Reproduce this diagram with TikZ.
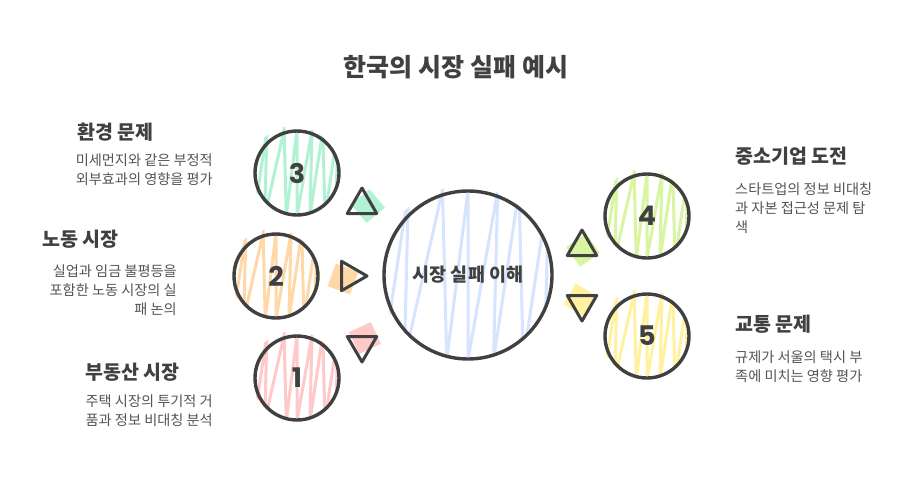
\documentclass[tikz,border=0pt]{standalone}
\usepackage{fontspec}
\setmainfont{Noto Sans CJK KR}
\newfontfamily\numfont{Poppins}
\usetikzlibrary{shapes.geometric}

\definecolor{ink}{HTML}{404040}
\definecolor{mint}{HTML}{B2F2D4}
\definecolor{peach}{HTML}{FFD8A8}
\definecolor{rose}{HTML}{FFC9C9}
\definecolor{lime}{HTML}{D8F5A2}
\definecolor{butter}{HTML}{FFF1A0}
\definecolor{sky}{HTML}{D6E4FF}

% zigzag hachure inside a circle: x, y, radius, colour
\newcommand\hatchcircle[4]{%
  \begin{scope}
    \clip (#1-3,#2-3) circle (#3+1);
    \draw[#4, line width=3pt, line join=miter]
      ({#1-#3},{#2+#3}) \foreach \a / \b in {0.3/0.45, 0.7/0.95, 1.0/1.2, 1.35/1.5, 1.6/1.85, 1.95/2.1}
        { -- ({#1-#3+\a*#3},{#2-#3}) -- ({#1-#3+\b*#3-0.2*#3},{#2+#3}) };
  \end{scope}}

\begin{document}
\begin{tikzpicture}[x=1pt,y=-1pt]
    \tikzstyle{ball}=[circle,draw=ink,line width=3.4pt,minimum size=84pt,inner sep=0pt]
    \tikzstyle{hub}=[ball,minimum size=168pt,font=\fontsize{18.5}{20}\selectfont\bfseries,text=ink]
    \tikzstyle{num}=[font=\numfont\fontsize{27}{30}\selectfont\bfseries,text=ink]
    \tikzstyle{tri}=[regular polygon,regular polygon sides=3,draw=ink,line width=3pt,
                     line join=round,minimum size=34pt,inner sep=0pt]
    \tikzstyle{patch}=[minimum size=24pt,inner sep=0pt]
    \tikzstyle{head}=[anchor=west,inner sep=0pt,text=ink,font=\fontsize{19.5}{22}\selectfont\bfseries]
    \tikzstyle{desc}=[inner sep=0pt,text=ink!90,font=\fontsize{14.2}{18.6}\selectfont]

    \useasboundingbox (0,0) rectangle (912,479);

    % Title
    \node[text=ink,font=\fontsize{25}{28}\selectfont\bfseries] (title) at (456,67) {한국의 시장 실패 예시};

    % Hachure fills behind the circles
    \hatchcircle{468}{275}{85}{sky}
    \foreach \x / \y / \c in {297/173/mint, 276/276/peach, 297/378/rose, 647/216/lime, 647/336/butter}
        \hatchcircle{\x}{\y}{43}{\c};

    % Draw the circles
    \node[hub] (hub) at (468,275) {시장 실패 이해};
    \foreach \name / \x / \y in {3/297/173, 2/276/276, 1/297/378, 4/647/216, 5/647/336}
        \node[ball] (C-\name) at (\x,\y) {};
    \foreach \name in {1,...,5}
        \node[num] at (C-\name) {\name};

    % Colour patches behind the triangles
    \foreach \name / \x / \y / \c / \r in {3/368/206/mint/40, 2/343/279/peach/-20,
                                            1/365/338/rose/25, 4/583/250/lime/35, 5/580/300/butter/-30}
        \node[patch,fill=\c,rotate=\r] (P-\name) at (\x,\y) {};

    % Draw the triangles
    \node[tri] (T-3) at (362,205) {};
    \node[tri,shape border rotate=-90] (T-2) at (350,276) {};
    \node[tri,shape border rotate=180] (T-1) at (362,345) {};
    \node[tri] (T-4) at (582,247) {};
    \node[tri,shape border rotate=180] (T-5) at (582,304) {};

    % Left annotations
    \node[head] (h-3) at (77,132) {환경 문제};
    \node[desc,anchor=north east,align=right] (d-3) at (213,154)
        {미세먼지와 같은 부정적\\외부효과의 영향을 평가};
    \node[head] (h-2) at (42,239) {노동 시장};
    \node[desc,anchor=north east,align=right] (d-2) at (177,265)
        {실업과 임금 불평등을\\포함한 노동 시장의 실\\패 논의};
    \node[head] (h-1) at (85,372) {부동산 시장};
    \node[desc,anchor=north east,align=right] (d-1) at (213,395)
        {주택 시장의 투기적 거\\품과 정보 비대칭 분석};

    % Right annotations
    \node[head] (h-4) at (735,156) {중소기업 도전};
    \node[desc,anchor=north west,align=left] (d-4) at (735,183)
        {스타트업의 정보 비대칭\\과 자본 접근성 문제 탐\\색};
    \node[head] (h-5) at (735,324) {교통 문제};
    \node[desc,anchor=north west,align=left] (d-5) at (735,351)
        {규제가 서울의 택시 부\\족에 미치는 영향 평가};
\end{tikzpicture}
\end{document}
